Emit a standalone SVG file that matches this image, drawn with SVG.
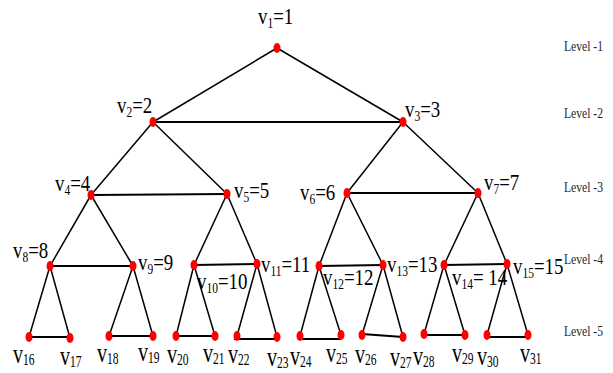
<svg xmlns="http://www.w3.org/2000/svg" width="613" height="373" viewBox="0 0 613 373">
<style>
.e{stroke:#000;stroke-width:1.5;fill:none}
.h{stroke:#000;stroke-width:2;fill:none}
.d{fill:#ff0000}
.lb{font-family:"Liberation Serif","Times New Roman",serif;font-size:23px;fill:#000}
.lb .s{font-size:14px}
.lf{font-family:"Liberation Serif","Times New Roman",serif;font-size:28px;fill:#000}
.lf .s{font-size:16px}
.lv{font-family:"Liberation Serif","Times New Roman",serif;font-size:14px;fill:#222}
</style>
<rect width="613" height="373" fill="#fff"/>
<g id="connectors">
<line class="e" x1="277" y1="48" x2="153" y2="122"/>
<line class="e" x1="277" y1="48" x2="403" y2="122"/>
<line class="h" x1="153" y1="122" x2="403" y2="122"/>
<line class="e" x1="153" y1="122" x2="91" y2="195"/>
<line class="e" x1="153" y1="122" x2="227" y2="194"/>
<line class="e" x1="403" y1="122" x2="347" y2="193"/>
<line class="e" x1="403" y1="122" x2="478" y2="193"/>
<line class="h" x1="91" y1="195" x2="227" y2="194"/>
<line class="h" x1="347" y1="193" x2="478" y2="193"/>
<line class="e" x1="91" y1="195" x2="50" y2="266"/>
<line class="e" x1="91" y1="195" x2="133" y2="266"/>
<line class="e" x1="227" y1="194" x2="194" y2="265"/>
<line class="e" x1="227" y1="194" x2="257" y2="264"/>
<line class="e" x1="347" y1="193" x2="319" y2="266"/>
<line class="e" x1="347" y1="193" x2="383" y2="265"/>
<line class="e" x1="478" y1="193" x2="444" y2="265"/>
<line class="e" x1="478" y1="193" x2="507" y2="264"/>
<line class="h" x1="50" y1="266" x2="133" y2="266"/>
<line class="h" x1="194" y1="265" x2="257" y2="264"/>
<line class="h" x1="319" y1="266" x2="383" y2="265"/>
<line class="h" x1="444" y1="265" x2="507" y2="264"/>
<line class="e" x1="50" y1="266" x2="29" y2="337"/>
<line class="e" x1="50" y1="266" x2="70" y2="338"/>
<line class="e" x1="133" y1="266" x2="109" y2="336"/>
<line class="e" x1="133" y1="266" x2="153" y2="336"/>
<line class="e" x1="194" y1="265" x2="176" y2="336"/>
<line class="e" x1="194" y1="265" x2="215" y2="336"/>
<line class="e" x1="257" y1="264" x2="237" y2="336"/>
<line class="e" x1="257" y1="264" x2="277" y2="337"/>
<line class="e" x1="319" y1="266" x2="300" y2="336"/>
<line class="e" x1="319" y1="266" x2="341" y2="335"/>
<line class="e" x1="383" y1="265" x2="362" y2="335"/>
<line class="e" x1="383" y1="265" x2="403" y2="337"/>
<line class="e" x1="444" y1="265" x2="424" y2="334"/>
<line class="e" x1="444" y1="265" x2="465" y2="335"/>
<line class="e" x1="507" y1="264" x2="487" y2="335"/>
<line class="e" x1="507" y1="264" x2="528" y2="335"/>
<line class="h" x1="29" y1="337" x2="70" y2="337"/>
<line class="h" x1="109" y1="336" x2="153" y2="336"/>
<line class="h" x1="176" y1="336" x2="215" y2="336"/>
<line class="h" x1="234" y1="339" x2="277" y2="339"/>
<line class="h" x1="300" y1="339" x2="341" y2="339"/>
<line class="h" x1="362" y1="334" x2="403" y2="337"/>
<line class="h" x1="424" y1="335" x2="465" y2="335"/>
<line class="h" x1="487" y1="337" x2="528" y2="337"/>
</g>
<g id="v1"><ellipse class="d" cx="277" cy="48" rx="3.5" ry="5"/><text class="lb" transform="translate(258,24) scale(0.82,1)">v<tspan class="s" dy="4">1</tspan><tspan dy="-4">=1</tspan></text></g>
<g id="v2"><ellipse class="d" cx="153" cy="122" rx="3.5" ry="5"/><text class="lb" transform="translate(117,113) scale(0.82,1)">v<tspan class="s" dy="4">2</tspan><tspan dy="-4">=2</tspan></text></g>
<g id="v3"><ellipse class="d" cx="403" cy="122" rx="3.5" ry="5"/><text class="lb" transform="translate(405,117) scale(0.82,1)">v<tspan class="s" dy="4">3</tspan><tspan dy="-4">=3</tspan></text></g>
<g id="v4"><ellipse class="d" cx="91" cy="195" rx="3.5" ry="5"/><text class="lb" transform="translate(55,191) scale(0.82,1)">v<tspan class="s" dy="4">4</tspan><tspan dy="-4">=4</tspan></text></g>
<g id="v5"><ellipse class="d" cx="227" cy="194" rx="3.5" ry="5"/><text class="lb" transform="translate(234,198) scale(0.82,1)">v<tspan class="s" dy="4">5</tspan><tspan dy="-4">=5</tspan></text></g>
<g id="v6"><ellipse class="d" cx="347" cy="193" rx="3.5" ry="5"/><text class="lb" transform="translate(300,200) scale(0.82,1)">v<tspan class="s" dy="4">6</tspan><tspan dy="-4">=6</tspan></text></g>
<g id="v7"><ellipse class="d" cx="478" cy="193" rx="3.5" ry="5"/><text class="lb" transform="translate(484,190) scale(0.82,1)">v<tspan class="s" dy="4">7</tspan><tspan dy="-4">=7</tspan></text></g>
<g id="v8"><ellipse class="d" cx="50" cy="266" rx="3.5" ry="5"/><text class="lb" transform="translate(13,258) scale(0.82,1)">v<tspan class="s" dy="4">8</tspan><tspan dy="-4">=8</tspan></text></g>
<g id="v9"><ellipse class="d" cx="133" cy="266" rx="3.5" ry="5"/><text class="lb" transform="translate(138,270) scale(0.82,1)">v<tspan class="s" dy="4">9</tspan><tspan dy="-4">=9</tspan></text></g>
<g id="v10"><ellipse class="d" cx="194" cy="265" rx="3.5" ry="5"/><text class="lb" transform="translate(197,289) scale(0.82,1)">v<tspan class="s" dy="4">10</tspan><tspan dy="-4">=10</tspan></text></g>
<g id="v11"><ellipse class="d" cx="257" cy="264" rx="3.5" ry="5"/><text class="lb" transform="translate(261,272) scale(0.82,1)">v<tspan class="s" dy="4">11</tspan><tspan dy="-4">=11</tspan></text></g>
<g id="v12"><ellipse class="d" cx="319" cy="266" rx="3.5" ry="5"/><text class="lb" transform="translate(323,285) scale(0.82,1)">v<tspan class="s" dy="4">12</tspan><tspan dy="-4">=12</tspan></text></g>
<g id="v13"><ellipse class="d" cx="383" cy="265" rx="3.5" ry="5"/><text class="lb" transform="translate(387,272) scale(0.82,1)">v<tspan class="s" dy="4">13</tspan><tspan dy="-4">=13</tspan></text></g>
<g id="v14"><ellipse class="d" cx="444" cy="265" rx="3.5" ry="5"/><text class="lb" transform="translate(452,285) scale(0.82,1)" xml:space="preserve">v<tspan class="s" dy="4">14</tspan><tspan dy="-4">= 14</tspan></text></g>
<g id="v15"><ellipse class="d" cx="507" cy="264" rx="3.5" ry="5"/><text class="lb" transform="translate(513,274) scale(0.82,1)">v<tspan class="s" dy="4">15</tspan><tspan dy="-4">=15</tspan></text></g>
<g id="v16"><ellipse class="d" cx="29" cy="337" rx="3.5" ry="5"/><text class="lf" transform="translate(13,363) scale(0.72,1)">v<tspan class="s" dy="2">16</tspan></text></g>
<g id="v17"><ellipse class="d" cx="70" cy="338" rx="3.5" ry="5"/><text class="lf" transform="translate(60,365) scale(0.72,1)">v<tspan class="s" dy="2">17</tspan></text></g>
<g id="v18"><ellipse class="d" cx="109" cy="336" rx="3.5" ry="5"/><text class="lf" transform="translate(97,362) scale(0.72,1)">v<tspan class="s" dy="2">18</tspan></text></g>
<g id="v19"><ellipse class="d" cx="153" cy="336" rx="3.5" ry="5"/><text class="lf" transform="translate(138,361) scale(0.72,1)">v<tspan class="s" dy="2">19</tspan></text></g>
<g id="v20"><ellipse class="d" cx="176" cy="336" rx="3.5" ry="5"/><text class="lf" transform="translate(167,363) scale(0.72,1)">v<tspan class="s" dy="2">20</tspan></text></g>
<g id="v21"><ellipse class="d" cx="215" cy="336" rx="3.5" ry="5"/><text class="lf" transform="translate(203,362) scale(0.72,1)">v<tspan class="s" dy="2">21</tspan></text></g>
<g id="v22"><ellipse class="d" cx="237" cy="336" rx="3.5" ry="5"/><text class="lf" transform="translate(228,363) scale(0.72,1)">v<tspan class="s" dy="2">22</tspan></text></g>
<g id="v23"><ellipse class="d" cx="277" cy="337" rx="3.5" ry="5"/><text class="lf" transform="translate(267,366) scale(0.72,1)">v<tspan class="s" dy="2">23</tspan></text></g>
<g id="v24"><ellipse class="d" cx="300" cy="336" rx="3.5" ry="5"/><text class="lf" transform="translate(290,365) scale(0.72,1)">v<tspan class="s" dy="2">24</tspan></text></g>
<g id="v25"><ellipse class="d" cx="341" cy="335" rx="3.5" ry="5"/><text class="lf" transform="translate(326,362) scale(0.72,1)">v<tspan class="s" dy="2">25</tspan></text></g>
<g id="v26"><ellipse class="d" cx="362" cy="335" rx="3.5" ry="5"/><text class="lf" transform="translate(355,363) scale(0.72,1)">v<tspan class="s" dy="2">26</tspan></text></g>
<g id="v27"><ellipse class="d" cx="403" cy="337" rx="3.5" ry="5"/><text class="lf" transform="translate(390,366) scale(0.72,1)">v<tspan class="s" dy="2">27</tspan></text></g>
<g id="v28"><ellipse class="d" cx="424" cy="334" rx="3.5" ry="5"/><text class="lf" transform="translate(413,365) scale(0.72,1)">v<tspan class="s" dy="2">28</tspan></text></g>
<g id="v29"><ellipse class="d" cx="465" cy="335" rx="3.5" ry="5"/><text class="lf" transform="translate(452,362) scale(0.72,1)">v<tspan class="s" dy="2">29</tspan></text></g>
<g id="v30"><ellipse class="d" cx="487" cy="335" rx="3.5" ry="5"/><text class="lf" transform="translate(477,365) scale(0.72,1)">v<tspan class="s" dy="2">30</tspan></text></g>
<g id="v31"><ellipse class="d" cx="528" cy="335" rx="3.5" ry="5"/><text class="lf" transform="translate(520,362) scale(0.72,1)">v<tspan class="s" dy="2">31</tspan></text></g>
<g id="levels">
<text class="lv" transform="translate(564,51) scale(0.83,1)">Level -1</text>
<text class="lv" transform="translate(564,118) scale(0.83,1)">Level -2</text>
<text class="lv" transform="translate(564,192) scale(0.83,1)">Level -3</text>
<text class="lv" transform="translate(564,264) scale(0.83,1)">Level -4</text>
<text class="lv" transform="translate(564,336) scale(0.83,1)">Level -5</text>
</g>
</svg>
